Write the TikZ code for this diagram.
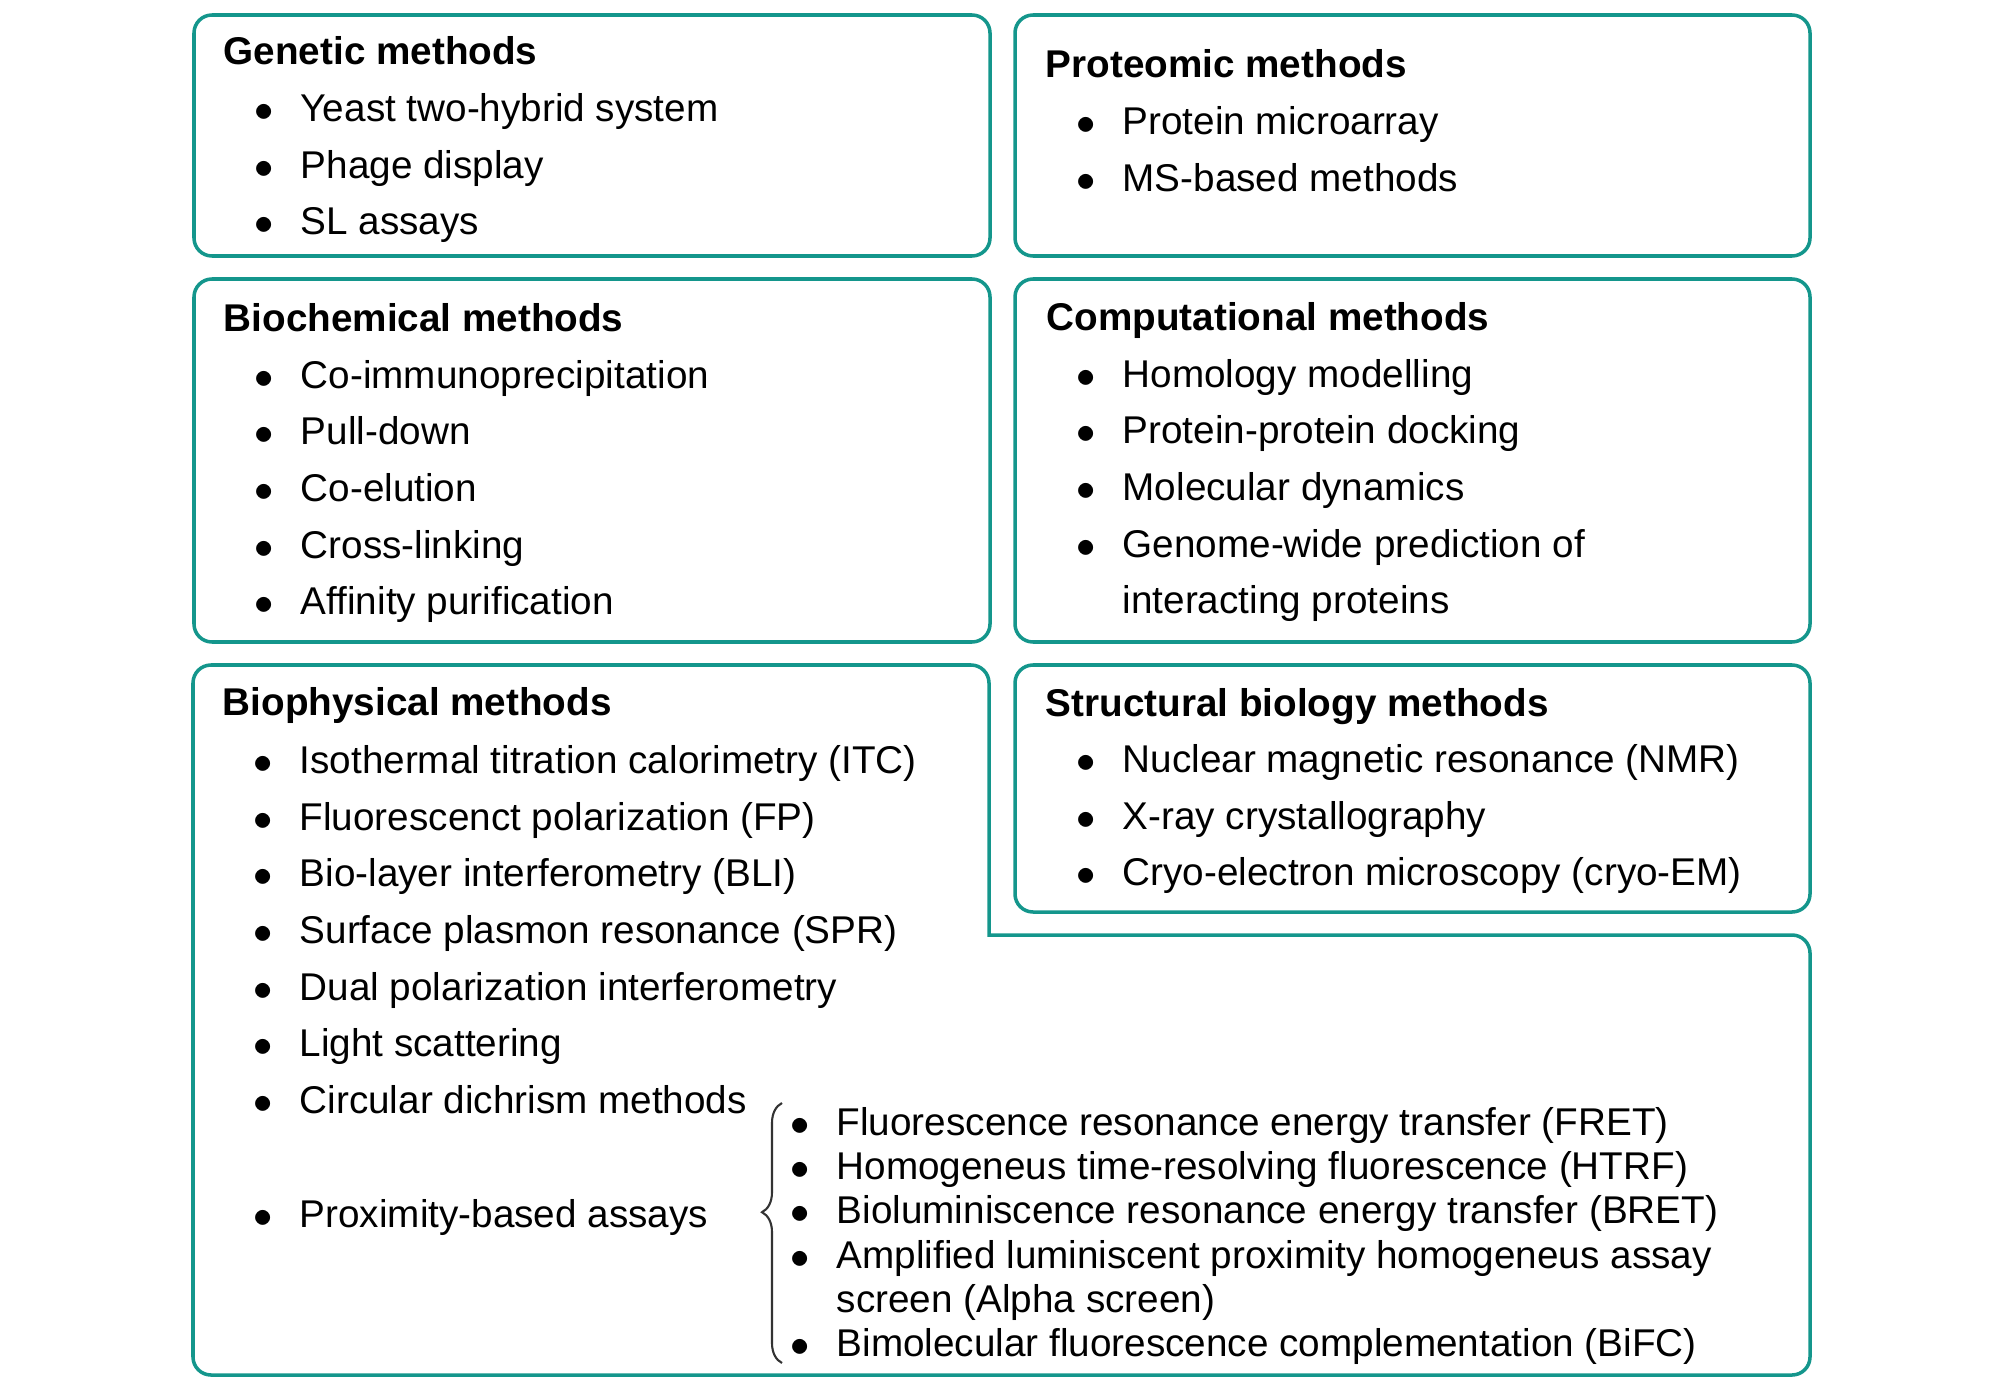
\documentclass[tikz,border=0pt]{standalone}
\usepackage{fontspec}
\setmainfont{Liberation Sans}
\usetikzlibrary{decorations.pathreplacing}
\definecolor{boxteal}{RGB}{20,150,140}
\newcommand{\bl}{\llap{\makebox[0.46cm][l]{$\bullet$}}}

\begin{document}
\begin{tikzpicture}[x=0.01cm,y=-0.01cm,
    every node/.style={inner sep=0pt,anchor=base west,font=\fontsize{11}{13}\selectfont},
    head/.style={font=\fontsize{11}{13}\selectfont\bfseries},
    box/.style={draw=boxteal,line width=1pt,rounded corners=0.18cm},
    brc/.style={draw=black!80,line width=0.6pt,decorate,
        decoration={brace,mirror,amplitude=0.2cm,aspect=0.42}}]
    \useasboundingbox (0,0) rectangle (2000,1400);
    % frames
    \draw[box] (194,15) rectangle (990,256);
    \draw[box] (1015,15) rectangle (1810,256);
    \draw[box] (194,279) rectangle (990,642);
    \draw[box] (1015,279) rectangle (1810,642);
    \draw[box] (1015,665) rectangle (1810,912);
    \draw[box,line cap=rect] (989,935) -- (1810,935) -- (1810,1375) -- (193,1375)
        -- (193,665) -- (989,665) -- (989,935);
    % genetic
    \node[head] (gen) at (223,65) {Genetic methods};
    \foreach \txt [count=\i] in {{Yeast two-hybrid system},{Phage display},{SL assays}}
        \node (gen\i) at (300,{121.5+56.7*(\i-1)}) {\bl\txt};
    % proteomic
    \node[head] (prot) at (1045,77.5) {Proteomic methods};
    \foreach \txt [count=\i] in {{Protein microarray},{MS-based methods}}
        \node (prot\i) at (1122,{134.5+56.7*(\i-1)}) {\bl\txt};
    % biochemical
    \node[head] (bioc) at (223,331.5) {Biochemical methods};
    \foreach \txt [count=\i] in {{Co-immunoprecipitation},{Pull-down},{Co-elution},
        {Cross-linking},{Affinity purification}}
        \node (bioc\i) at (300,{388+56.7*(\i-1)}) {\bl\txt};
    % computational
    \node[head] (comp) at (1046,330.5) {Computational methods};
    \foreach \txt [count=\i] in {{Homology modelling},{Protein-protein docking},
        {Molecular dynamics},{Genome-wide prediction of}}
        \node (comp\i) at (1122,{387+56.7*(\i-1)}) {\bl\txt};
    \node (comp5) at (1122,613.8) {interacting proteins};
    % biophysical
    \node[head] (biop) at (222,715.5) {Biophysical methods};
    \foreach \txt [count=\i] in {{Isothermal titration calorimetry (ITC)},
        {Fluorescenct polarization (FP)},{Bio-layer interferometry (BLI)},
        {Surface plasmon resonance (SPR)},{Dual polarization interferometry},
        {Light scattering},{Circular dichrism methods}}
        \node (biop\i) at (299,{773.3+56.7*(\i-1)}) {\bl\txt};
    \node (prox) at (299,1227.5) {\bl Proximity-based assays};
    % structural
    \node[head] (struc) at (1045,716.5) {Structural biology methods};
    \foreach \txt [count=\i] in {{Nuclear magnetic resonance (NMR)},
        {X-ray crystallography},{Cryo-electron microscopy (cryo-EM)}}
        \node (struc\i) at (1122,{772.5+56.7*(\i-1)}) {\bl\txt};
    % proximity assays
    \foreach \txt [count=\i] in {{Fluorescence resonance energy transfer (FRET)},
        {Homogeneus time-resolving fluorescence (HTRF)},
        {Bioluminiscence resonance energy transfer (BRET)},
        {Amplified luminiscent proximity homogeneus assay}}
        \node (prox\i) at (836,{1135.5+44.2*(\i-1)}) {\bl\txt};
    \node (prox5) at (836,1312) {screen (Alpha screen)};
    \node (prox6) at (836,1356) {\bl Bimolecular fluorescence complementation (BiFC)};
    \coordinate (brtop) at (782,1103);
    \coordinate (brbot) at (782,1363);
    \draw[brc] (brtop) -- (brbot);
\end{tikzpicture}
\end{document}
